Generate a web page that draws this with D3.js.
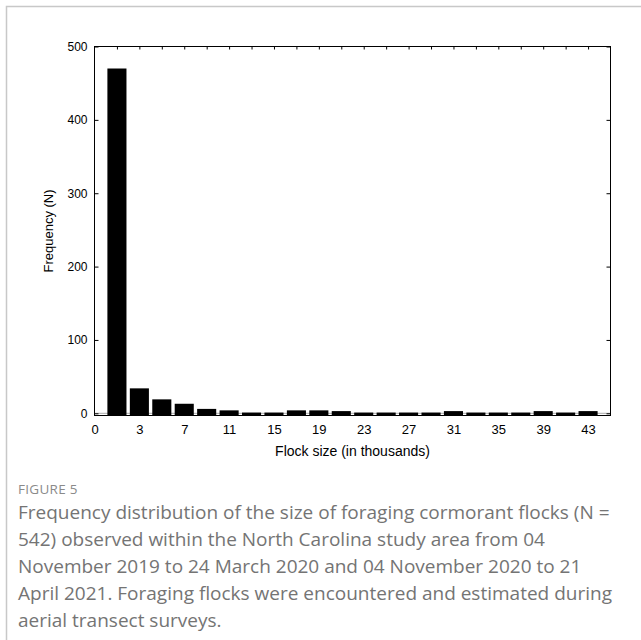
<!DOCTYPE html>
<html>
<head>
<meta charset="utf-8">
<script src="https://cdn.jsdelivr.net/npm/d3@7"></script>
<style>
  body { margin: 0; background: #fff; }
  svg { display: block; }
</style>
</head>
<body>
<div id="chart"></div>
<script>
// flock size bins (thousands) and how many flocks fell in each
const bins = [1, 3, 5, 7, 9, 11, 13, 15, 17, 19, 21, 23, 25, 27, 29, 31, 33, 35, 37, 39, 41, 43];
const counts = [470, 34, 19, 13, 6, 4, 1, 1, 4, 4, 3, 1, 1, 1, 1, 3, 1, 1, 1, 3, 1, 3];
const xTickValues = [-1, 3, 7, 11, 15, 19, 23, 27, 31, 35, 39, 43];
const xTickLabels = ['0', '3', '7', '11', '15', '19', '23', '27', '31', '35', '39', '43'];
const yTicks = [0, 100, 200, 300, 400, 500];

const captionTitle = 'FIGURE 5';
const captionLines = [
  'Frequency distribution of the size of foraging cormorant flocks (N =',
  '542) observed within the North Carolina study area from 04',
  'November 2019 to 24 March 2020 and 04 November 2020 to 21',
  'April 2021. Foraging flocks were encountered and estimated during',
  'aerial transect surveys.'
];

const width = 641, height = 640;
const plotL = 94.5, plotR = 610.5, plotT = 46.5, plotB = 415.5;

const svg = d3.select('#chart')
  .append('svg')
  .attr('width', width)
  .attr('height', height);

// card border
svg.append('path')
  .attr('d', `M6.5,${height + 5}V6.5H${width + 5}`)
  .attr('fill', 'none')
  .attr('stroke', '#c8c8c8')
  .attr('stroke-width', 1.5);

const x = d3.scaleLinear().domain([-1, 45]).range([plotL, plotR]);
const y = d3.scaleLinear().domain([-3, 500]).range([plotB, plotT]);

// bins are 2 wide, bars fill ~85% of that
const barW = x(1.7) - x(0);

// zero line behind bars
svg.append('line')
  .attr('x1', plotL).attr('x2', plotR)
  .attr('y1', y(0)).attr('y2', y(0))
  .attr('stroke', '#aaa');

svg.selectAll('rect.bar')
  .data(bins)
  .enter()
  .append('rect')
  .attr('class', 'bar')
  .attr('x', (d) => x(d) - barW / 2)
  .attr('width', barW)
  .attr('y', (d, i) => y(counts[i]))
  .attr('height', (d, i) => plotB - y(counts[i]))
  .attr('fill', '#000');

// axes
const yLeft = svg.append('g')
  .attr('transform', `translate(${plotL},0)`)
  .call(d3.axisLeft(y).tickValues(yTicks).tickSizeInner(-4).tickSizeOuter(0).tickPadding(7));

const yRight = svg.append('g')
  .attr('transform', `translate(${plotR},0)`)
  .call(d3.axisRight(y).tickValues(yTicks).tickSizeInner(-4).tickSizeOuter(0).tickFormat(''));

const xTop = svg.append('g')
  .attr('transform', `translate(0,${plotT})`)
  .call(d3.axisTop(x).tickValues(bins).tickSizeInner(-3).tickSizeOuter(0).tickFormat(''));

const xBottom = svg.append('g')
  .attr('transform', `translate(0,${plotB})`)
  .call(d3.axisBottom(x).tickValues(xTickValues).tickSize(0).tickPadding(9)
    .tickFormat((d, i) => xTickLabels[i]));

[yLeft, yRight, xTop, xBottom].forEach((g) => {
  g.select('.domain').remove();
  g.selectAll('line').attr('stroke', '#000');
  g.selectAll('text')
    .attr('fill', '#000')
    .style('font-family', '"Liberation Sans", Arial, sans-serif');
});
yLeft.selectAll('text').style('font-size', '12px');
xBottom.selectAll('text').style('font-size', '13px');

// frame
svg.append('rect')
  .attr('x', plotL).attr('y', plotT)
  .attr('width', plotR - plotL).attr('height', plotB - plotT)
  .attr('fill', 'none')
  .attr('stroke', '#000');

// axis titles
svg.append('text')
  .attr('x', (plotL + plotR) / 2)
  .attr('y', 456)
  .attr('text-anchor', 'middle')
  .style('font-family', '"Liberation Sans", Arial, sans-serif')
  .style('font-size', '14px')
  .text('Flock size (in thousands)');

svg.append('text')
  .attr('transform', `translate(53,${(plotT + plotB) / 2}) rotate(-90)`)
  .attr('text-anchor', 'middle')
  .style('font-family', '"Liberation Sans", Arial, sans-serif')
  .style('font-size', '13px')
  .text('Frequency (N)');

// caption
svg.append('text')
  .attr('x', 18)
  .attr('y', 494)
  .attr('fill', '#8a8a8a')
  .style('font-family', '"Open Sans", sans-serif')
  .style('font-size', '13.5px')
  .style('letter-spacing', '0.3px')
  .text(captionTitle);

svg.append('g')
  .selectAll('text')
  .data(captionLines)
  .enter()
  .append('text')
  .attr('x', 18)
  .attr('y', (d, i) => 519 + i * 27)
  .attr('fill', '#747474')
  .style('font-family', '"Open Sans", sans-serif')
  .style('font-size', '19px')
  .text((d) => d);
</script>
</body>
</html>
